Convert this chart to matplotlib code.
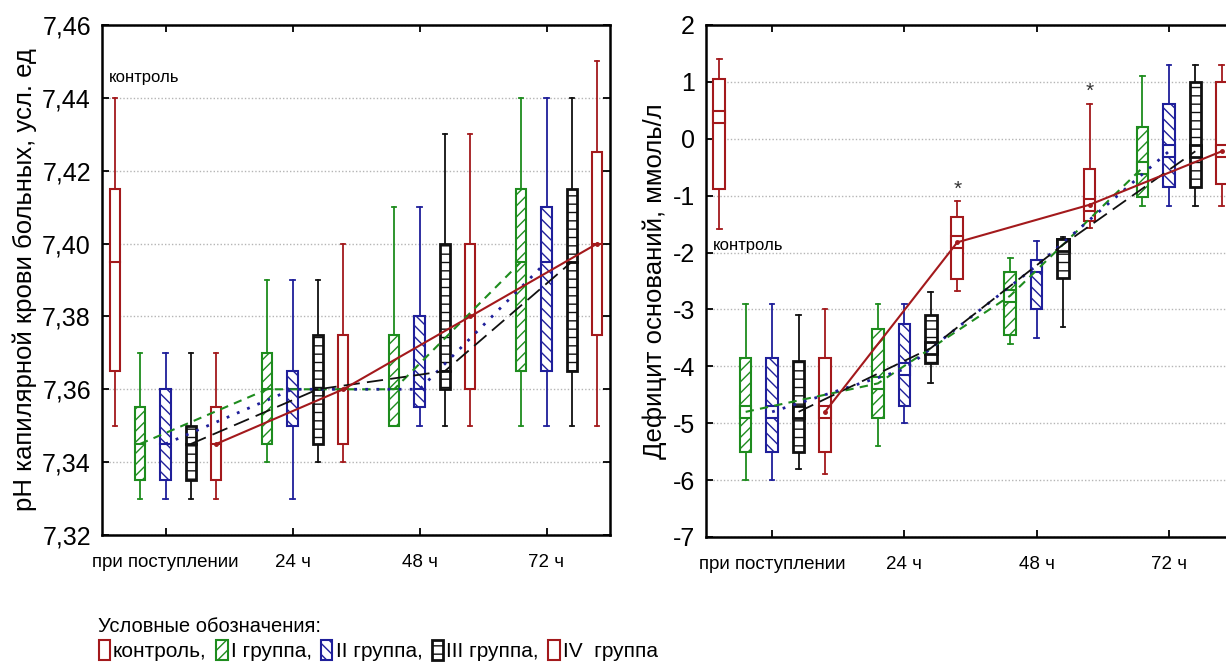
import numpy as np
import matplotlib.pyplot as plt
from matplotlib.patches import Rectangle
from matplotlib.ticker import FuncFormatter

plt.rcParams['font.family'] = ['Liberation Sans', 'DejaVu Sans']
plt.rcParams['hatch.linewidth'] = 1.0

times = ["при поступлении", "24 ч", "48 ч", "72 ч"]
legend_labels = ["контроль,", "I группа,", "II группа,", "III группа,", "IV  группа"]

# pH, rows: groups I..IV, columns: time points
ph_min = [[7.33, 7.34, 7.35, 7.35],
          [7.33, 7.33, 7.35, 7.35],
          [7.33, 7.34, 7.35, 7.35],
          [7.33, 7.34, 7.35, 7.35]]
ph_q1 = [[7.335, 7.345, 7.35, 7.365],
         [7.335, 7.35, 7.355, 7.365],
         [7.335, 7.345, 7.36, 7.365],
         [7.335, 7.345, 7.36, 7.375]]
ph_med = [[7.345, 7.36, 7.36, 7.395],
          [7.345, 7.36, 7.36, 7.395],
          [7.345, 7.36, 7.365, 7.395],
          [7.345, 7.36, 7.38, 7.40]]
ph_q3 = [[7.355, 7.37, 7.375, 7.415],
         [7.36, 7.365, 7.38, 7.41],
         [7.35, 7.375, 7.40, 7.415],
         [7.355, 7.375, 7.40, 7.425]]
ph_max = [[7.37, 7.39, 7.41, 7.44],
          [7.37, 7.39, 7.41, 7.44],
          [7.37, 7.39, 7.43, 7.44],
          [7.37, 7.40, 7.43, 7.45]]
ph_ctrl = [7.35, 7.365, 7.395, 7.415, 7.44]  # min, q1, med, q3, max

# base deficit, mmol/l
be_min = [[-6.0, -5.4, -3.6, -1.18],
          [-6.0, -5.0, -3.5, -1.18],
          [-5.8, -4.3, -3.3, -1.18],
          [-5.9, -2.67, -1.57, -1.18]]
be_q1 = [[-5.5, -4.9, -3.45, -1.03],
         [-5.5, -4.7, -3.0, -0.85],
         [-5.5, -3.95, -2.45, -0.85],
         [-5.5, -2.46, -1.44, -0.79]]
be_med = [[-4.8, -4.3, -2.76, -0.51],
          [-4.8, -4.05, -2.23, -0.22],
          [-4.8, -3.68, -1.86, -0.22],
          [-4.8, -1.82, -1.16, -0.22]]
be_q3 = [[-3.85, -3.34, -2.35, 0.21],
         [-3.85, -3.25, -2.15, 0.61],
         [-3.9, -3.1, -1.76, 1.0],
         [-3.85, -1.38, -0.54, 1.0]]
be_max = [[-2.9, -2.9, -2.1, 1.1],
          [-2.9, -2.9, -1.8, 1.3],
          [-3.1, -2.7, -1.72, 1.3],
          [-3.0, -1.1, 0.61, 1.3]]
be_ctrl = [-1.58, -0.88, 0.38, 1.05, 1.4]
be_stars = [(3, 1), (3, 2)]  # (group IV index, time index)

COLORS = ["#1e8c1e", "#1f1f9a", "#101010", "#a3191c"]
HATCHES = ["///", "\\\\\\", "--", None]
LSTYLES = [(0, (4, 3)), (0, (1, 3)), (0, (9, 4)), "-"]
LWIDTHS = [1.5, 2.0, 1.3, 1.5]
OFFSETS = [-0.2, 0.0, 0.2, 0.4]
CTRL_X = -0.4
W, H = 1226, 666


def draw_box(ax, x, lo, q1, med, q3, hi, color, hatch, w, med_h, lw=1.5):
    ax.plot([x, x], [lo, q1], color=color, lw=1.3, zorder=2)
    ax.plot([x, x], [q3, hi], color=color, lw=1.3, zorder=2)
    for v in (lo, hi):
        ax.plot([x - w * 0.2, x + w * 0.2], [v, v], color=color, lw=1.3, zorder=2)
    ax.add_patch(Rectangle((x - w / 2, q1), w, q3 - q1, facecolor="white",
                           edgecolor=color, hatch=hatch, lw=lw, zorder=3))
    if med_h:
        ax.add_patch(Rectangle((x - w / 2, med - med_h / 2), w, med_h, facecolor="white",
                               edgecolor=color, lw=lw, zorder=4))
    else:
        ax.plot([x - w / 2, x + w / 2], [med, med], color=color, lw=lw, zorder=4)


def draw_panel(ax, mins, q1s, meds, q3s, maxs, ctrl, w, med_h):
    draw_box(ax, CTRL_X, *ctrl, COLORS[3], None, w, med_h)
    for g in range(4):
        xs = np.arange(len(times)) + OFFSETS[g]
        for t in range(len(times)):
            draw_box(ax, xs[t], mins[g][t], q1s[g][t], meds[g][t], q3s[g][t], maxs[g][t],
                     COLORS[g], HATCHES[g], w, med_h, lw=2.0 if g == 2 else 1.5)
    for g in range(4):
        xs = np.arange(len(times)) + OFFSETS[g]
        ax.plot(xs, meds[g], color=COLORS[g], ls=LSTYLES[g], lw=LWIDTHS[g],
                marker="o" if g == 3 else None, ms=2.5, zorder=5)
    ax.set_xlim(-0.5, 3.5)
    ax.set_xticks(np.arange(len(times)))
    ax.set_xticklabels(times, fontsize=13.5)
    ax.grid(True, axis="y", ls=(0, (1, 1.5)), color="#b5b5b5", lw=1.0)
    ax.set_axisbelow(True)
    ax.tick_params(direction="in", top=True, right=True, length=5, width=1.3)
    ax.tick_params(axis="x", pad=14)
    ax.tick_params(axis="y", labelsize=18, pad=8)
    for s in ax.spines.values():
        s.set_linewidth(1.8)


fig = plt.figure(figsize=(W / 100, H / 100), dpi=100)

ax1 = fig.add_axes([102 / W, 1 - 535 / H, 508 / W, 510 / H])
draw_panel(ax1, ph_min, ph_q1, ph_med, ph_q3, ph_max, ph_ctrl, 0.08, None)
ax1.set_ylim(7.32, 7.46)
ax1.set_yticks(np.arange(7.32, 7.461, 0.02))
ax1.yaxis.set_major_formatter(FuncFormatter(lambda v, p: f"{v:.2f}".replace(".", ",")))
ax1.set_ylabel("pH капилярной крови больных, усл. ед", fontsize=18.5, labelpad=4)
ax1.text(-0.445, 7.4455, "контроль", fontsize=12, va="center", ha="left")

ax2 = fig.add_axes([706 / W, 1 - 537 / H, 529 / W, 512 / H])
draw_panel(ax2, be_min, be_q1, be_med, be_q3, be_max, be_ctrl, 0.088, 0.21)
ax2.set_ylim(-7, 2)
ax2.set_yticks(np.arange(-7, 3, 1))
ax2.yaxis.set_major_formatter(FuncFormatter(lambda v, p: f"{v:g}"))
ax2.set_ylabel("Дефицит оснований, ммоль/л", fontsize=18.5, labelpad=4)
ax2.text(-0.445, -1.88, "контроль", fontsize=12, va="center", ha="left")
for g, t in be_stars:
    ax2.text(t + OFFSETS[g], be_max[g][t] + 0.22, "*", fontsize=15, ha="center",
             va="center", color="#333333")

handles = [Rectangle((0, 0), 1, 1, facecolor="white", edgecolor=COLORS[3], lw=1.5)]
for g in range(4):
    handles.append(Rectangle((0, 0), 1, 1, facecolor="white", edgecolor=COLORS[g],
                             hatch=HATCHES[g], lw=2.0 if g == 2 else 1.5))
leg = fig.legend(handles, legend_labels, ncol=5, loc="lower left",
                 bbox_to_anchor=(86 / W, -0.012), frameon=False, fontsize=15,
                 title="Условные обозначения:", title_fontsize=14.5, alignment="left",
                 handlelength=0.55, handleheight=1.1, handletextpad=0.15,
                 columnspacing=0.45, borderaxespad=0.2, labelspacing=0.2)

fig.savefig("out.png", dpi=100)
